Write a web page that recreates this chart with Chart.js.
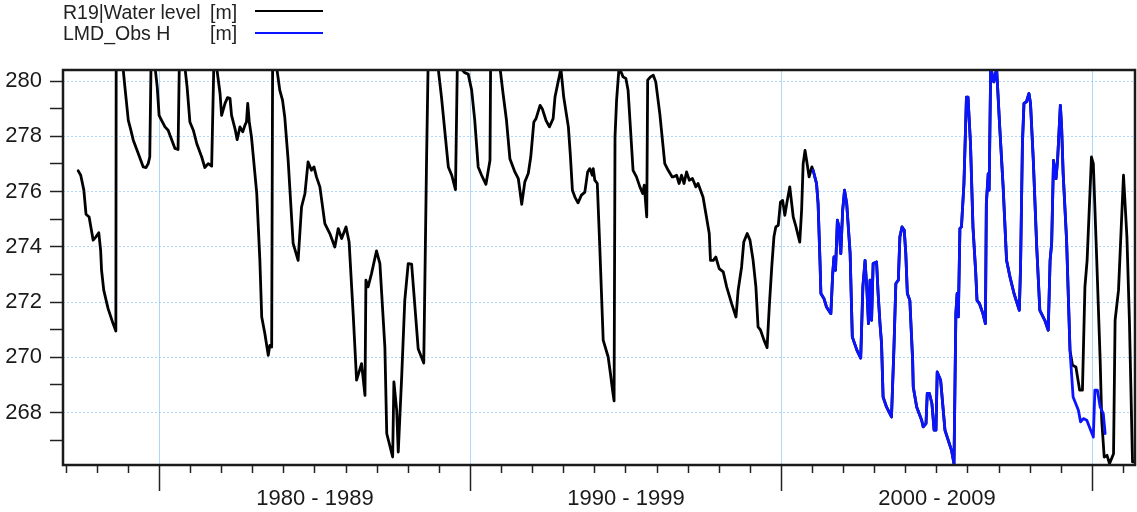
<!DOCTYPE html>
<html><head><meta charset="utf-8">
<script src="https://cdn.jsdelivr.net/npm/chart.js@4.4.1/dist/chart.umd.min.js"></script>
<style>
html,body{margin:0;padding:0;background:#fff;}
#wrap{position:relative;width:1137px;height:512px;overflow:hidden;background:#fff;}
canvas{position:absolute;left:0;top:0;}
.lg{position:absolute;font-family:"Liberation Sans",Arial,sans-serif;font-size:19.5px;line-height:22px;color:#222;white-space:nowrap;}
.lg span{position:absolute;left:147px;top:0;}
.ln{position:absolute;height:0;width:68px;border-top:2.5px solid;}
</style></head>
<body>
<div id="wrap">
<canvas id="c" width="1137" height="512"></canvas>
<div class="lg" style="left:63px;top:1px;">R19|Water level <span>[m]</span></div>
<div class="ln" style="left:255px;top:9.5px;border-color:#000;"></div>
<div class="lg" style="left:63px;top:22px;">LMD_Obs H <span>[m]</span></div>
<div class="ln" style="left:255px;top:31.5px;border-color:#0a14ff;"></div>
</div>
<script>
// ---- data (decimal year, water level m) ----
const waterLevelEarly = [
[1977.39,276.75],[1977.47,276.59],[1977.57,276.05],[1977.64,275.18],[1977.74,275.08],[1977.87,274.24],[1977.96,274.36],[1978.05,274.51],[1978.11,273.87],[1978.14,273.15],[1978.21,272.43],[1978.35,271.76],[1978.51,271.22],[1978.60,270.95],[1978.61,280.6],[1978.82,280.6],[1978.89,279.79],[1979.00,278.58],[1979.07,278.28],[1979.16,277.86],[1979.32,277.38],[1979.48,276.89],[1979.57,276.87],[1979.64,277.01],[1979.69,277.25],[1979.73,280.6],[1979.86,280.5],[1979.93,279.79],[1979.99,278.76],[1980.07,278.58],[1980.18,278.34],[1980.28,278.22],[1980.50,277.56],[1980.60,277.52],[1980.64,280.6],[1980.82,280.5],[1980.89,279.79],[1980.98,278.52],[1981.09,278.22],[1981.20,277.74],[1981.36,277.25],[1981.46,276.87],[1981.57,277.01],[1981.68,276.92],[1981.75,280.6],[1981.84,280.5],[1981.95,279.55],[1982.00,278.76],[1982.11,279.19],[1982.19,279.40],[1982.27,279.37],[1982.32,278.76],[1982.43,278.28],[1982.50,277.88],[1982.59,278.34],[1982.68,278.16],[1982.75,278.40],[1982.80,278.52],[1982.84,279.19],[1982.89,278.52],[1982.96,277.98],[1983.13,275.93],[1983.23,273.51],[1983.29,271.46],[1983.39,270.86],[1983.50,270.07],[1983.55,270.43],[1983.61,270.37],[1983.64,280.6],[1983.77,280.5],[1983.87,279.67],[1983.96,279.30],[1984.03,278.70],[1984.14,277.13],[1984.30,274.12],[1984.46,273.51],[1984.57,275.44],[1984.68,275.93],[1984.78,277.07],[1984.89,276.77],[1984.97,276.89],[1985.05,276.53],[1985.16,276.17],[1985.32,274.84],[1985.48,274.48],[1985.64,273.99],[1985.75,274.66],[1985.86,274.30],[1986.00,274.72],[1986.10,274.17],[1986.23,271.58],[1986.34,269.17],[1986.50,269.77],[1986.61,268.62],[1986.64,272.79],[1986.71,272.55],[1986.82,273.03],[1986.98,273.85],[1987.09,273.39],[1987.25,270.37],[1987.31,267.24],[1987.50,266.39],[1987.54,269.11],[1987.63,268.08],[1987.68,266.57],[1987.79,269.29],[1987.89,272.06],[1988.00,273.39],[1988.11,273.37],[1988.25,271.34],[1988.32,270.31],[1988.50,269.79],[1988.59,277.13],[1988.64,280.6],[1988.96,280.5],[1989.07,279.42],[1989.29,276.89],[1989.40,276.59],[1989.52,276.07],[1989.58,280.6],[1989.82,280.3],[1989.93,280.25],[1990.04,279.67],[1990.14,278.58],[1990.25,276.89],[1990.36,276.59],[1990.50,276.26],[1990.63,277.13],[1990.65,280.6],[1990.95,280.5],[1991.05,279.55],[1991.16,278.58],[1991.27,277.19],[1991.43,276.71],[1991.54,276.47],[1991.65,275.54],[1991.75,276.35],[1991.86,276.65],[1991.94,277.25],[1992.04,278.52],[1992.11,278.64],[1992.24,279.12],[1992.31,279.00],[1992.43,278.58],[1992.54,278.34],[1992.66,278.64],[1992.72,279.42],[1992.82,279.97],[1992.91,280.45],[1993.00,279.42],[1993.15,278.34],[1993.21,277.38],[1993.28,276.05],[1993.36,275.80],[1993.46,275.59],[1993.57,275.87],[1993.68,275.98],[1993.77,276.71],[1993.84,276.83],[1993.92,276.59],[1993.95,276.83],[1994.00,276.41],[1994.08,276.29],[1994.16,273.99],[1994.27,270.62],[1994.43,270.01],[1994.51,269.35],[1994.57,268.81],[1994.62,268.42],[1994.65,277.98],[1994.70,279.30],[1994.78,280.5],[1994.91,280.15],[1995.00,280.09],[1995.07,279.67],[1995.23,276.77],[1995.34,276.53],[1995.45,276.17],[1995.54,275.93],[1995.59,276.23],[1995.67,275.08],[1995.70,280.03],[1995.79,280.15],[1995.88,280.21],[1995.96,279.97],[1996.09,278.82],[1996.25,277.01],[1996.36,276.77],[1996.49,276.53],[1996.52,276.53],[1996.63,276.59],[1996.71,276.29],[1996.79,276.59],[1996.87,276.29],[1996.95,276.71],[1997.04,276.41],[1997.14,276.47],[1997.25,276.17],[1997.32,276.29],[1997.48,275.80],[1997.59,275.08],[1997.68,274.48],[1997.72,273.51],[1997.81,273.51],[1997.89,273.63],[1998.00,273.21],[1998.13,273.09],[1998.24,272.55],[1998.40,271.94],[1998.54,271.46],[1998.61,272.43],[1998.72,273.27],[1998.79,274.17],[1998.90,274.48],[1998.99,274.24],[1999.09,273.51],[1999.18,272.55],[1999.25,271.10],[1999.33,270.98],[1999.44,270.62],[1999.54,270.35],[1999.61,271.82],[1999.69,273.27],[1999.76,274.36],[1999.82,274.72],[1999.90,274.78],[1999.97,275.62],[2000.04,275.68],[2000.11,275.14],[2000.19,275.68],[2000.27,276.17],[2000.38,275.08],[2000.47,274.72],[2000.59,274.17],[2000.65,275.32],[2000.70,277.01],[2000.76,277.49],[2000.81,277.13],[2000.89,276.53],[2000.98,276.89]
];
const waterLevelLate = [
[2009.36,269.71],[2009.47,269.65],[2009.59,268.81],[2009.68,268.81],[2009.76,272.55],[2009.83,273.51],[2009.97,277.25],[2010.03,277.01],[2010.14,273.51],[2010.25,269.89],[2010.30,267.72],[2010.38,266.39],[2010.47,266.45],[2010.55,266.15],[2010.68,266.51],[2010.73,271.34],[2010.84,272.43],[2011.00,276.59],[2011.11,274.36],[2011.19,271.34],[2011.29,266.21],[2011.38,266.21]
];
const observedH = [
[2001.02,276.77],[2001.13,276.29],[2001.18,275.56],[2001.24,273.51],[2001.27,272.31],[2001.37,272.12],[2001.45,271.82],[2001.59,271.58],[2001.65,273.03],[2001.69,273.63],[2001.74,273.15],[2001.80,274.96],[2001.85,274.72],[2001.91,273.75],[2001.97,275.32],[2002.03,276.05],[2002.10,275.56],[2002.21,273.75],[2002.28,270.74],[2002.43,270.25],[2002.55,269.97],[2002.62,272.55],[2002.69,273.51],[2002.75,272.43],[2002.80,271.22],[2002.85,272.79],[2002.90,271.34],[2002.95,273.39],[2003.06,273.45],[2003.11,272.31],[2003.17,271.22],[2003.22,270.50],[2003.27,268.56],[2003.38,268.20],[2003.54,267.84],[2003.62,270.37],[2003.68,272.67],[2003.76,272.79],[2003.81,274.36],[2003.88,274.72],[2003.95,274.60],[2004.00,273.75],[2004.05,272.31],[2004.13,272.06],[2004.22,269.89],[2004.24,268.92],[2004.35,268.20],[2004.51,267.72],[2004.56,267.48],[2004.65,267.60],[2004.69,268.69],[2004.76,268.69],[2004.84,268.32],[2004.91,267.36],[2004.97,267.36],[2005.01,269.47],[2005.12,269.17],[2005.26,267.36],[2005.47,266.63],[2005.55,266.15],[2005.61,271.58],[2005.65,272.31],[2005.69,271.46],[2005.74,274.66],[2005.79,274.72],[2005.87,276.29],[2005.95,279.42],[2006.00,279.42],[2006.08,277.74],[2006.16,274.72],[2006.25,273.03],[2006.29,272.06],[2006.37,271.94],[2006.48,271.58],[2006.56,271.22],[2006.59,275.56],[2006.65,276.65],[2006.68,276.05],[2006.73,280.5],[2006.83,279.97],[2006.92,280.45],[2007.02,278.34],[2007.13,276.17],[2007.24,273.51],[2007.35,272.91],[2007.48,272.31],[2007.65,271.70],[2007.69,273.27],[2007.75,277.74],[2007.80,279.19],[2007.88,279.25],[2007.96,279.55],[2008.01,279.19],[2008.10,277.13],[2008.21,273.99],[2008.31,271.70],[2008.47,271.34],[2008.58,270.98],[2008.64,273.51],[2008.69,274.12],[2008.75,277.13],[2008.83,276.47],[2008.88,277.13],[2008.97,279.12],[2009.01,278.34],[2009.06,276.65],[2009.17,274.24],[2009.28,270.25],[2009.38,268.56],[2009.55,268.08],[2009.62,267.66],[2009.71,267.78],[2009.82,267.72],[2010.03,267.11],[2010.08,268.81],[2010.16,268.81],[2010.25,268.20],[2010.35,267.96],[2010.41,267.24]
];
const modelObsSplitYear = 2009.28; // model line coincides with observations until here
const yearTicks = [1977,1978,1979,1980,1981,1982,1983,1984,1985,1986,1987,1988,1989,1990,1991,1992,1993,1994,1995,1996,1997,1998,1999,2000,2001,2002,2003,2004,2005,2006,2007,2008,2009,2010,2011];
const decadeTicks = [1980,1985,1990,1995,2000,2005,2010];
const decadeLabels = {1985:'1980 - 1989',1995:'1990 - 1999',2005:'2000 - 2009'};
const levelTicks = [267,268,269,270,271,272,273,274,275,276,277,278,279,280];

// ---- build ----
const toXY = a => a.map(p => ({x:p[0], y:p[1]}));
const modelSeries = waterLevelEarly.concat(observedH.filter(p => p[0] <= modelObsSplitYear), waterLevelLate);
const FONT = '"Liberation Sans", Arial, sans-serif';
const GRID = 'rgba(150,200,248,0.75)';
const XMIN = 1976.9, XMAX = 2011.37;

const framePlugin = {
  id:'frame',
  afterDatasetsDraw(chart){
    const {ctx, chartArea:a} = chart;
    ctx.save();
    ctx.strokeStyle = '#1a1a1a';
    ctx.lineWidth = 2.5;
    ctx.strokeRect(a.left, a.top, a.right - a.left, a.bottom - a.top);
    ctx.restore();
  }
};

new Chart(document.getElementById('c'), {
  type:'line',
  data:{ datasets:[
    {label:'R19|Water level [m]', data:toXY(modelSeries), borderColor:'#000', borderWidth:2.8, pointRadius:0, tension:0, borderJoinStyle:'round', borderCapStyle:'round', order:2, xAxisID:'x', yAxisID:'y'},
    {label:'LMD_Obs H [m]', data:toXY(observedH), borderColor:'#0a14ff', borderWidth:2.8, pointRadius:0, tension:0, borderJoinStyle:'round', borderCapStyle:'round', order:1, xAxisID:'x', yAxisID:'y'}
  ]},
  options:{
    responsive:false, animation:false, devicePixelRatio:1,
    layout:{padding:{top:70, right:2, left:0, bottom:0}},
    plugins:{legend:{display:false}, tooltip:{enabled:false}},
    scales:{
      x:{ type:'linear', position:'bottom', min:XMIN, max:XMAX,
        afterBuildTicks: s => { s.ticks = yearTicks.map(v => ({value:v})); },
        afterFit: s => { s.height = 8; },
        ticks:{display:false},
        border:{display:false},
        grid:{ color: c => (c.tick && c.tick.value % 10 === 0) ? GRID : 'rgba(0,0,0,0)', lineWidth:1, tickColor:'#222', tickWidth:1.5, tickLength:8, drawTicks:true }
      },
      x2:{ type:'linear', position:'bottom', min:XMIN, max:XMAX,
        afterBuildTicks: s => { s.ticks = decadeTicks.map(v => ({value:v})); },
        afterFit: s => { s.height = 39; },
        border:{display:false},
        grid:{ drawOnChartArea:false, drawTicks:true, tickLength:18, tickWidth:1.5,
               tickColor: c => (c.tick && c.tick.value % 10 === 0) ? '#222' : 'rgba(0,0,0,0)' },
        ticks:{ autoSkip:false, maxRotation:0, minRotation:0, padding:-5, color:'#1a1a1a',
                font:{family:FONT, size:22},
                callback: v => decadeLabels[v] || '' }
      },
      y:{ type:'linear', position:'left', min:266.1, max:280.4,
        afterBuildTicks: s => { s.ticks = levelTicks.map(v => ({value:v})); },
        afterFit: s => { s.width = 63; },
        border:{display:false, dash:[2,2]},
        grid:{ color: c => (c.tick && c.tick.value % 2 === 0) ? GRID : 'rgba(0,0,0,0)', lineWidth:1, tickColor:'#222', tickWidth:1.5, tickLength:13 },
        ticks:{ padding:8, color:'#1a1a1a', font:{family:FONT, size:22},
                callback: v => (v % 2 === 0) ? String(v) : '' }
      }
    }
  },
  plugins:[framePlugin]
});
</script>
</body></html>
